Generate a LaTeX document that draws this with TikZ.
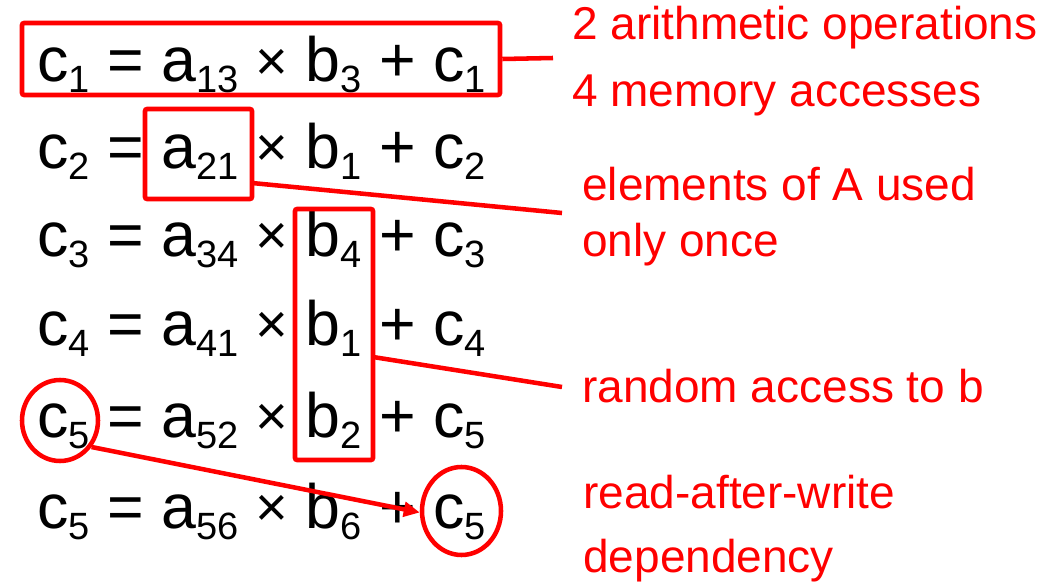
\documentclass[tikz,border=0pt]{standalone}
\usepackage{fontspec}
\setmainfont{Liberation Sans}
\usetikzlibrary{shapes.geometric,arrows.meta}

% lowered, smaller index
\newcommand\ix[1]{\raisebox{-8.25pt}{\fontsize{28.5}{28.5}\selectfont #1}}
% slightly smaller multiplication sign
\newcommand\tms{\raisebox{0.8pt}{\fontsize{42}{42}\selectfont ×}}

\begin{document}
\begin{tikzpicture}[x=0.75pt,y=-0.75pt,
  eq/.style={anchor=base west, inner sep=0, font=\fontsize{47}{47}\selectfont},
  note/.style={anchor=base west, inner sep=0, text=red, font=\fontsize{34.5}{34.5}\selectfont},
  hl/.style={draw=red, line width=3.4pt, rounded corners=1.5pt, inner sep=0},
  ring/.style={ellipse, draw=red, line width=3.4pt, inner sep=0},
  lead/.style={draw=red, line width=3.4pt},
]
\useasboundingbox (0,0) rectangle (1057,585);

% the six statements
\node[eq] (r1) at (37,82)  {c\ix{1} = a\ix{13} \tms{} b\ix{3} + c\ix{1}};
\node[eq] (r2) at (37,168) {c\ix{2} = a\ix{21} \tms{} b\ix{1} + c\ix{2}};
\node[eq] (r3) at (37,256) {c\ix{3} = a\ix{34} \tms{} b\ix{4} + c\ix{3}};
\node[eq] (r4) at (37,345) {c\ix{4} = a\ix{41} \tms{} b\ix{1} + c\ix{4}};
\node[eq] (r5) at (37,437) {c\ix{5} = a\ix{52} \tms{} b\ix{2} + c\ix{5}};
\node[eq] (r6) at (37,528) {c\ix{5} = a\ix{56} \tms{} b\ix{6} + c\ix{5}};

% highlight frames and rings
\node[hl, minimum width=358.5pt, minimum height=54pt] (whole) at (261,59) {};
\node[hl, minimum width=80.25pt, minimum height=67.5pt] (aelem) at (198.5,154) {};
\node[hl, minimum width=58.5pt, minimum height=188.25pt] (bcol) at (334,334.5) {};
\node[ring, minimum width=57pt, minimum height=60.75pt] (wr) at (60,420.5) {};
\node[ring, minimum width=59.25pt, minimum height=66pt] (rd) at (461.5,511) {};

% annotations
\node[note] (n1a) at (572,40)  {2 arithmetic operations};
\node[note] (n1b) at (572,107) {4 memory accesses};
\node[note] (n2a) at (582,200) {elements of A used};
\node[note] (n2b) at (582,256) {only once};
\node[note] (n3)  at (582,402) {random access to b};
\node[note] (n4a) at (583,508) {read-after-write};
\node[note] (n4b) at (583,572) {dependency};

% leader lines
\coordinate (e1) at (553,58);
\coordinate (e2) at (562,213);
\coordinate (e3) at (562,387);
\coordinate (s2) at (252,183);
\coordinate (s3) at (373,357);
\draw[lead] (whole.east) -- (e1);
\draw[lead] (s2) -- (e2);
\draw[lead] (s3) -- (e3);
\draw[lead, -{Triangle[length=12pt, width=11pt]}] (wr.-40) -- (rd.182);
\end{tikzpicture}
\end{document}
